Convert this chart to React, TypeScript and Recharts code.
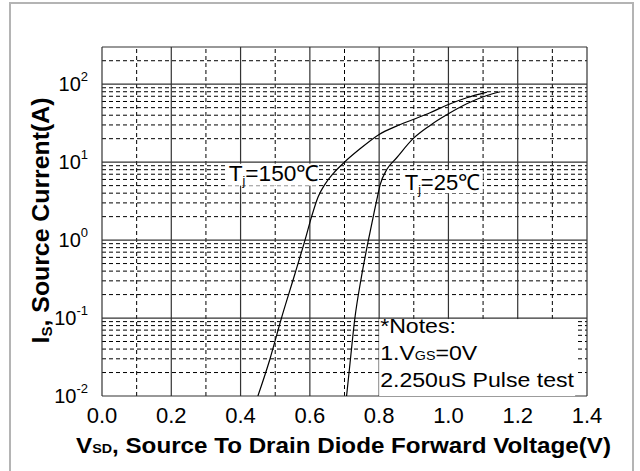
import { LineChart, Line, XAxis, YAxis, ReferenceLine, ReferenceDot } from "recharts"

// 横軸 (V) の目盛り
const voltageTicks = [0, 0.2, 0.4, 0.6, 0.8, 1.0, 1.2, 1.4]
const voltageMinor = [0.1, 0.3, 0.5, 0.7, 0.9, 1.1, 1.3]

// 縦軸 (A) 対数目盛り
const currentTicks = [0.01, 0.1, 1, 10, 100]
const currentDomain = [0.01, 300]
const minorSteps = [2, 3, 4, 5, 6, 7, 8, 9]

// Tj=150℃ curve
const tj150Voltage = [0.45, 0.484, 0.518, 0.557, 0.586, 0.605, 0.624, 0.643, 0.668, 0.7, 0.743, 0.8, 0.85, 0.898, 0.947, 1.0, 1.053, 1.111]
const tj150Current = [0.01, 0.029, 0.1, 0.37, 1.0, 2.0, 3.6, 5.15, 7.2, 10, 14.6, 22.7, 29, 35.2, 43, 55, 67, 79]

// Tj=25℃ curve
const tj25Voltage = [0.706, 0.716, 0.73, 0.749, 0.769, 0.783, 0.793, 0.803, 0.822, 0.85, 0.898, 0.947, 1.0, 1.053, 1.111, 1.15]
const tj25Current = [0.01, 0.0265, 0.1, 0.34, 1.0, 2.0, 3.26, 5.15, 8.05, 11.3, 20, 29.6, 41.7, 56, 71.6, 80]

const FONT = "'Liberation Sans', Arial, sans-serif"

const toRows = (v: number[], i: number[]) => v.map((x, k) => ({ v: x, i: i[k] }))
const tj150Data = toRows(tj150Voltage, tj150Current)
const tj25Data = toRows(tj25Voltage, tj25Current)

const currentMinor: number[] = []
currentTicks.slice(0, 4).forEach((d) => minorSteps.forEach((m) => currentMinor.push(+(d * m).toPrecision(3))))
currentMinor.push(200)

// 元画像の文字は横に少し伸びているので scaleX で合わせる
const Stretch = ({ x, y, sx = 1, rotate = 0, children }: any) => (
  <g transform={`translate(${x} ${y}) rotate(${rotate}) scale(${sx} 1)`}>{children}</g>
)

const YTick = ({ x, y, payload }: any) => {
  const exp = Math.round(Math.log10(payload.value))
  return (
    <text x={x - 14} y={y + 7} textAnchor="end" fontFamily={FONT} fontSize={20} fill="#000">
      10
      <tspan dy={-10} fontSize={13}>{exp}</tspan>
    </text>
  )
}

const XTitle = ({ viewBox }: any) => (
  <Stretch x={viewBox.x + viewBox.width / 2 - 1} y={viewBox.y + 57} sx={1.1}>
    <text textAnchor="middle" fontFamily={FONT} fontSize={22} fontWeight="bold" fill="#000">
      V<tspan fontSize={13}>SD</tspan>, Source To Drain Diode Forward Voltage(V)
    </text>
  </Stretch>
)

const YTitle = ({ viewBox }: any) => (
  <Stretch x={viewBox.x + 7} y={viewBox.y + viewBox.height / 2 - 1} rotate={-90} sx={1.08}>
    <text textAnchor="middle" fontFamily={FONT} fontSize={23} fontWeight="bold" fill="#000">
      I<tspan fontSize={14} dy={3}>S</tspan><tspan dy={-3}>, Source Current(A)</tspan>
    </text>
  </Stretch>
)

const Label150 = ({ cx, cy }: any) => (
  <g>
    <rect x={cx} y={cy + 1.5} width={92} height={22} fill="#fff" />
    <Stretch x={cx + 2} y={cy + 19} sx={1.03}>
      <text fontFamily={FONT} fontSize={22} fill="#000">
        T<tspan fontSize={12} dy={4}>j</tspan><tspan dy={-4}>=150℃</tspan>
      </text>
    </Stretch>
  </g>
)

const Label25 = ({ cx, cy }: any) => (
  <g>
    <rect x={cx} y={cy + 8} width={80} height={23} fill="#fff" />
    <Stretch x={cx + 2} y={cy + 28} sx={1.0}>
      <text fontFamily={FONT} fontSize={22} fill="#000">
        T<tspan fontSize={12} dy={4}>j</tspan><tspan dy={-4}>=25℃</tspan>
      </text>
    </Stretch>
  </g>
)

const Notes = ({ cx, cy }: any) => (
  <g fontFamily={FONT} fontSize={21} fill="#000">
    <rect x={cx} y={cy + 1} width={196} height={77} fill="#fff" />
    <Stretch x={cx + 1} y={cy + 15} sx={1.1}>
      <text>*Notes:</text>
    </Stretch>
    <Stretch x={cx + 1} y={cy + 42} sx={1.1}>
      <text>
        1.V<tspan fontSize={13}>GS</tspan>=0V
      </text>
    </Stretch>
    <Stretch x={cx + 1} y={cy + 69} sx={1.1}>
      <text>2.250uS Pulse test</text>
    </Stretch>
  </g>
)

export default function App() {
  return (
    <div style={{ position: "absolute", left: 0, top: 0, width: 640, height: 471, background: "#fff" }}>
      <svg width={640} height={471} style={{ position: "absolute", left: 0, top: 0 }}>
        <rect x={10} y={3} width={623} height={500} fill="none" stroke="#b4b4b4" strokeWidth={2} />
      </svg>
      <div style={{ position: "absolute", left: 0, top: 0 }}>
        <LineChart width={640} height={471} margin={{ top: 47, right: 53, bottom: 35, left: 42 }}>
          <XAxis
            dataKey="v"
            type="number"
            domain={[0, 1.4]}
            ticks={voltageTicks}
            tickFormatter={(v) => v.toFixed(1)}
            allowDataOverflow
            height={40}
            tickSize={0}
            tickMargin={11}
            axisLine={false}
            tick={{ fontSize: 22, fill: "#000", fontFamily: FONT }}
            label={<XTitle />}
          />
          <YAxis
            dataKey="i"
            type="number"
            scale="log"
            domain={currentDomain}
            ticks={currentTicks}
            allowDataOverflow
            width={60}
            tickSize={0}
            tickMargin={0}
            axisLine={false}
            tick={<YTick />}
            label={<YTitle />}
          />
          {currentMinor.map((c) => (
            <ReferenceLine key={"hm" + c} y={c} stroke="#000" strokeWidth={1} strokeDasharray="4 3" />
          ))}
          {voltageMinor.map((v) => (
            <ReferenceLine key={"vm" + v} x={v} stroke="#000" strokeWidth={1} strokeDasharray="4 3" />
          ))}
          {currentTicks.map((c) => (
            <ReferenceLine key={"hM" + c} y={c} stroke="#333" strokeWidth={1.2} />
          ))}
          {voltageTicks.map((v) => (
            <ReferenceLine key={"vM" + v} x={v} stroke="#333" strokeWidth={1.2} />
          ))}
          <ReferenceLine y={300} stroke="#333" strokeWidth={1.2} />
          <ReferenceDot x={0.36} y={10} r={1} shape={<Label150 />} />
          <ReferenceDot x={0.868} y={10} r={1} shape={<Label25 />} />
          <ReferenceDot x={0.8} y={0.1} r={1} shape={<Notes />} />
          <Line data={tj150Data} dataKey="i" type="monotone" stroke="#000" strokeWidth={1.2} dot={false} isAnimationActive={false} />
          <Line data={tj25Data} dataKey="i" type="monotone" stroke="#000" strokeWidth={1.2} dot={false} isAnimationActive={false} />
        </LineChart>
      </div>
    </div>
  )
}
